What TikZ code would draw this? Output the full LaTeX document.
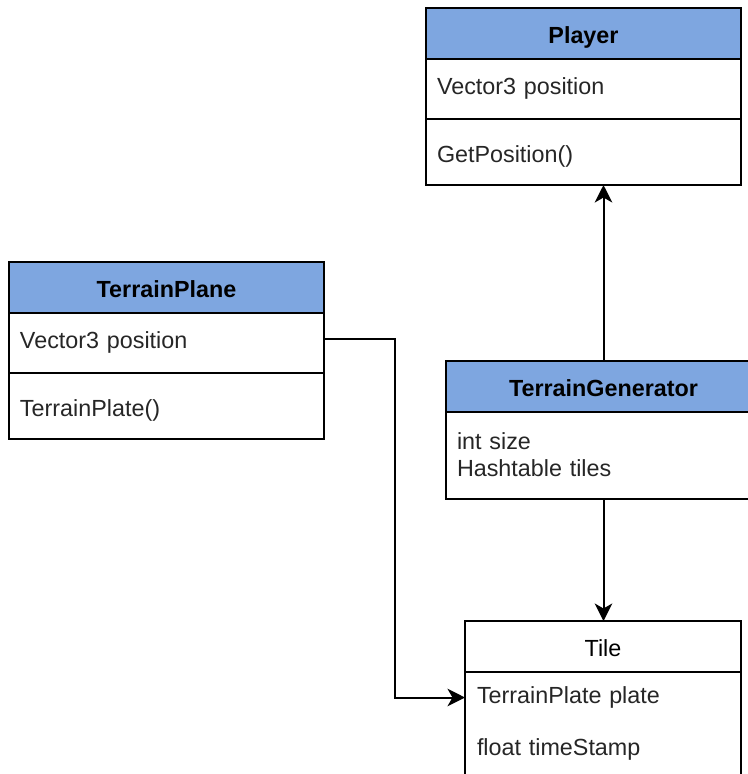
\documentclass[tikz,border=0pt]{standalone}
\usepackage{fontspec}
\setmainfont{Liberation Sans}
\usetikzlibrary{positioning,arrows.meta}

\definecolor{headblue}{HTML}{7EA6E0}

\tikzset{
  box/.style={draw, line width=1.2pt, outer sep=0pt, inner xsep=6.6pt,
    text=black!85, font=\fontsize{14}{16.2}\selectfont},
  head/.style={box, fill=headblue, minimum width=189pt, minimum height=30.3pt,
    text height=11.7pt, text depth=0pt,
    text=black, font=\fontsize{14}{16.2}\selectfont\bfseries},
  field/.style={box, minimum height=36pt, text width=175.8pt, align=left},
  ops/.style={field, minimum height=39.9pt, text height=12.5pt, text depth=0pt},
  row/.style={field, draw=none, inner xsep=7.2pt, text width=151.2pt, minimum height=31.2pt},
  link/.style={line width=1.2pt, -{Stealth[length=10.5pt,width=10.5pt,inset=3pt]}}
}

\begin{document}
\begin{tikzpicture}
  \useasboundingbox (0,0) rectangle (448.8pt,-464.4pt);
  \clip (0,0) rectangle (448.8pt,-464.4pt);

  % Player
  \node[head, anchor=north west] (player) at (255.6pt,-4.8pt) {Player};
  \node[field, below=0pt of player]    (playerattr) {Vector3 position};
  \node[ops, below=0pt of playerattr]  (playerops) {GetPosition()};

  % TerrainPlane
  \node[head, anchor=north west] (plane) at (5.4pt,-157.2pt) {TerrainPlane};
  \node[field, below=0pt of plane]     (planeattr) {Vector3 position};
  \node[ops, below=0pt of planeattr]   (planeops) {TerrainPlate()};

  % TerrainGenerator
  \node[head, anchor=north west] (gen) at (267.6pt,-216.6pt) {TerrainGenerator};
  \node[field, minimum height=52.2pt, below=0pt of gen] (genattr) {int size\\Hashtable tiles};

  % Tile
  \node[head, fill=white, minimum width=165.6pt, font=\fontsize{14}{16.2}\selectfont,
        anchor=north west] (tile) at (279pt,-372.6pt) {Tile};
  \node[row, below=0pt of tile]      (tileplate) {TerrainPlate plate};
  \node[row, below=0pt of tileplate] (tilestamp) {float timeStamp};
  \draw[line width=1.2pt] (tileplate.north west) rectangle ([yshift=-20pt]tilestamp.south east);

  % links
  \draw[link] (gen.north) -- (gen.north |- playerops.south);
  \draw[link] (genattr.south) -- (genattr.south |- tile.north);
  \draw[link] ([yshift=2.4pt]planeattr.east) -- ++(42.6pt,0) |- (tileplate.west);
\end{tikzpicture}
\end{document}
